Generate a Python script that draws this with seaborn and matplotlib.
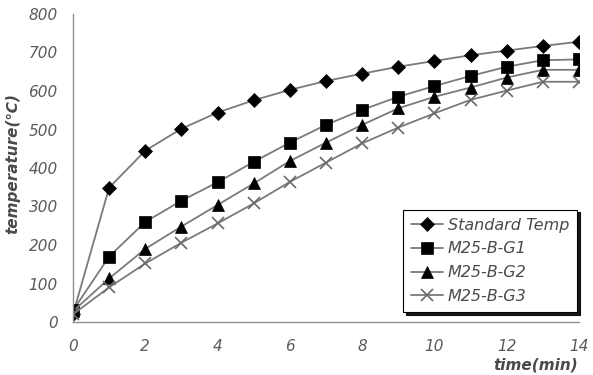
import matplotlib
matplotlib.use("Agg")
import matplotlib.pyplot as plt
import seaborn as sns
import pandas as pd

time = list(range(0, 15))
standard_temp = [20, 349, 445, 502, 544, 576, 603, 626, 645, 663, 678, 693, 705, 717, 728]
g1 = [30, 170, 260, 315, 363, 416, 466, 512, 551, 585, 613, 639, 663, 680, 682]
g2 = [28, 113, 190, 248, 304, 360, 418, 466, 512, 555, 585, 609, 635, 655, 655]
g3 = [20, 90, 152, 206, 256, 308, 364, 414, 464, 505, 542, 577, 601, 624, 624]
series_names = ["Standard Temp", "M25-B-G1", "M25-B-G2", "M25-B-G3"]
x_ticks = [0, 2, 4, 6, 8, 10, 12, 14]
y_ticks = [0, 100, 200, 300, 400, 500, 600, 700, 800]

sns.set_style("white")
plt.rcParams['font.family'] = ['DejaVu Sans']

fig = plt.figure(figsize=(5.93, 3.75), dpi=100)
ax = fig.add_axes([73/593, 1-322/375, (579-73)/593, (322-14)/375])

line_c = "#7a7a7a"
styles = [
    dict(marker="D", markersize=7, mfc="black", mec="black"),
    dict(marker="s", markersize=8, mfc="black", mec="black"),
    dict(marker="^", markersize=8, mfc="black", mec="black"),
    dict(marker="x", markersize=8, mfc="#6a6a6a", mec="#6a6a6a"),
]
for name, vals, st in zip(series_names, [standard_temp, g1, g2, g3], styles):
    df = pd.DataFrame({"time": time, "temp": vals})
    sns.lineplot(data=df, x="time", y="temp", ax=ax, color=line_c, linewidth=1.3,
                 marker=st["marker"], markersize=st["markersize"],
                 markerfacecolor=st["mfc"], markeredgecolor=st["mec"],
                 markeredgewidth=1.2 if st["marker"] == "x" else 0.5,
                 label=name)

ax.set_xlim(0, 14)
ax.set_ylim(0, 800)
ax.set_xticks(x_ticks)
ax.set_yticks(y_ticks)
ax.set_xticklabels([str(v) for v in x_ticks])
ax.set_yticklabels([str(v) for v in y_ticks])
for s in ["top", "right"]:
    ax.spines[s].set_visible(False)
for s in ["left", "bottom"]:
    ax.spines[s].set_color("#909090")
    ax.spines[s].set_linewidth(1.0)
ax.tick_params(axis="both", direction="in", length=4, color="#909090",
               labelsize=11, labelcolor="#5a5a5a")
ax.tick_params(axis="y", pad=11)
ax.tick_params(axis="x", pad=12)
for lab in ax.get_xticklabels() + ax.get_yticklabels():
    lab.set_fontstyle("italic")
ax.set_xlabel("")
ax.set_ylabel("")

fig.text(13/593, 1-163/375, "temperature(℃)", rotation=90, ha="center", va="center",
         fontsize=11, fontstyle="italic", fontweight="bold", color="#4a4a4a")
fig.text(536/593, 2/375, "time(min)", ha="center", va="bottom",
         fontsize=11, fontstyle="italic", fontweight="bold", color="#4a4a4a")

leg = ax.legend(loc="lower right", bbox_to_anchor=(585/593, 1-320/375),
                bbox_transform=fig.transFigure, frameon=True, fancybox=False,
                shadow={"color": "black", "alpha": 0.9}, edgecolor="black", fontsize=11.5,
                handlelength=2.0, borderpad=0.5, labelspacing=0.55, handletextpad=0.3)
leg.get_frame().set_linewidth(0.8)
for t in leg.get_texts():
    t.set_fontstyle("italic")
    t.set_color("#4a4a4a")

fig.savefig("out.png", dpi=100)
